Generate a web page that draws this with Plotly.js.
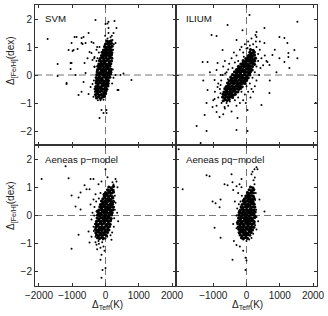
<!DOCTYPE html>
<html>
<head>
<meta charset="utf-8">
<script src="https://cdn.plot.ly/plotly-3.0.1.min.js"></script>
<style>html,body{margin:0;padding:0;background:#fff}#chart{width:328px;height:316px}</style>
</head>
<body>
<div id="chart"></div>
<script>
// ---- data (ΔTeff in K, Δ[Fe/H] in dex) ----
const panelNames = ["SVM", "ILIUM", "Aeneas p\u2212model", "Aeneas pq\u2212model"];
const xTickValsLeft = [-2000, -1000, 0, 1000, 2000];
const xTickTextLeft = ["\u22122000", "\u22121000", "0", "1000", "2000"];
const xTickValsRight = [-1000, 0, 1000, 2000];
const xTickTextRight = ["\u22121000", "0", "1000", "2000"];
const yTickVals = [-2, -1, 0, 1, 2];
const yTickText = ["\u22122", "\u22121", "0", "1", "2"];

const svmCore = [
[-270,-0.82],[-210,-0.78],[-150,-0.84],[-90,-0.79],[-40,-0.76],
[-300,-0.7],[-240,-0.68],[-180,-0.73],[-120,-0.69],[-60,-0.72],[0,-0.67],
[-290,-0.58],[-230,-0.62],[-170,-0.6],[-110,-0.57],[-50,-0.63],[10,-0.59],
[-300,-0.49],[-250,-0.52],[-190,-0.47],[-130,-0.53],[-70,-0.5],[-10,-0.46],[40,-0.51],
[-290,-0.41],[-230,-0.38],[-170,-0.43],[-110,-0.4],[-50,-0.37],[10,-0.42],[70,-0.39],
[-280,-0.29],[-220,-0.32],[-160,-0.28],[-100,-0.31],[-40,-0.27],[20,-0.33],[80,-0.3],
[-270,-0.21],[-210,-0.18],[-150,-0.23],[-90,-0.19],[-30,-0.22],[30,-0.17],[90,-0.2],
[-280,-0.09],[-220,-0.12],[-160,-0.08],[-100,-0.11],[-40,-0.07],[20,-0.12],[80,-0.1],[130,-0.08],
[-260,0.01],[-200,-0.02],[-140,0.03],[-80,0.0],[-20,0.02],[40,-0.03],[100,0.01],[150,0.03],
[-250,0.11],[-190,0.08],[-130,0.12],[-70,0.09],[-10,0.13],[50,0.08],[110,0.11],[160,0.1],
[-240,0.19],[-180,0.22],[-120,0.18],[-60,0.21],[0,0.17],[60,0.22],[120,0.19],[170,0.2],
[-230,0.31],[-170,0.28],[-110,0.32],[-50,0.29],[10,0.33],[70,0.28],[130,0.31],
[-200,0.39],[-140,0.42],[-80,0.38],[-20,0.41],[40,0.37],[100,0.42],[160,0.4],
[-180,0.51],[-120,0.48],[-60,0.52],[0,0.49],[60,0.53],[120,0.48],[180,0.5],
[-160,0.59],[-100,0.62],[-40,0.58],[20,0.61],[80,0.57],[140,0.62],[190,0.6],
[-120,0.69],[-60,0.72],[0,0.68],[60,0.71],[120,0.67],[180,0.72],
[-100,0.81],[-40,0.78],[20,0.82],[80,0.79],[140,0.83],[190,0.8],
[-60,0.89],[0,0.92],[60,0.88],[120,0.91],[180,0.9],
[-30,1.01],[30,0.98],[90,1.02],[150,0.99],[200,1.03],
[0,1.1],[60,1.12],[120,1.09],[180,1.13],
[40,1.21],[110,1.19],[170,1.22],
[-230,-0.55],[-140,-0.45],[-60,-0.35],[-200,-0.25],[-120,-0.15],[-30,-0.05],[50,-0.25],[-180,0.05],
[-90,0.15],[10,0.25],[100,0.35],[-150,0.35],[-30,0.45],[80,0.55],[-80,0.65],[40,0.75],[150,0.75],
[-10,0.85],[100,0.95],[-220,-0.45],[-10,-0.55],[-250,-0.15],[70,0.05],[-160,0.25],[130,0.65]
];
const svmScatter = [
[-330,0.3],[-350,-0.2],[-320,-0.6],[-340,0.6],[220,0.2],[240,-0.1],[230,0.9],[250,1.1],[-200,0.8],
[-240,0.6],[-180,1.0],[210,1.25],[150,1.35],[60,1.3],[-250,1.0],[-150,-0.9],[-60,-0.88],[-230,-0.9],
[-10,1.4],[190,1.4],[-330,-0.5],[-270,0.5],[200,-0.3],[-290,-0.75],
[-1740,1.29],[-300,1.96],[0,1.82],[60,1.84],[270,1.93],[-870,1.36],[-720,1.32],[-1110,0.89],
[-990,0.86],[-720,1.14],[-600,1.14],[-510,1.5],[-420,1.18],[-840,0.93],[-480,0.82],[-540,0.6],
[-1050,0.43],[-1440,0.39],[-1050,0.21],[-900,0.0],[-1440,-0.04],[-1170,-0.32],[-660,-0.25],[-600,0.07],
[-510,-0.68],[-810,-0.71],[-720,-0.6],[-360,-0.78],[-120,-1.25],[-60,-1.36],[-180,-1.54],[450,0.0],
[540,0.05],[780,-0.18],[360,-0.54],[300,1.14],[240,1.5],[90,1.5],[90,1.68],[-270,0.9],[-330,0.64],
[-390,0.54],[-330,0.29],[-390,-0.32],[-270,-0.5],[-930,1.36],[-660,1.36],[-1020,1.14],[-690,1.11],
[-360,1.14],[-960,0.89],[-630,0.43],[-420,0.79],[-1020,0.43],[-1170,-0.29],[-450,-0.43],[390,-0.54],
[300,0.0],[30,-1.25],[30,-1.36],[330,1.68],[90,1.9]
];

const iliumCore = [
[-700,-0.92],[-640,-0.88],[-580,-0.91],[-520,-0.87],
[-720,-0.79],[-660,-0.82],[-600,-0.78],[-540,-0.81],[-480,-0.77],[-420,-0.8],
[-700,-0.69],[-640,-0.72],[-580,-0.68],[-520,-0.71],[-460,-0.67],[-400,-0.72],[-340,-0.69],
[-680,-0.61],[-620,-0.58],[-560,-0.62],[-500,-0.59],[-440,-0.63],[-380,-0.58],[-320,-0.61],[-260,-0.6],
[-650,-0.49],[-590,-0.52],[-530,-0.48],[-470,-0.51],[-410,-0.47],[-350,-0.52],[-290,-0.49],[-230,-0.51],[-180,-0.48],
[-610,-0.41],[-550,-0.38],[-490,-0.42],[-430,-0.39],[-370,-0.43],[-310,-0.38],[-250,-0.41],[-190,-0.39],[-130,-0.42],
[-570,-0.29],[-510,-0.32],[-450,-0.28],[-390,-0.31],[-330,-0.27],[-270,-0.32],[-210,-0.29],[-150,-0.31],[-90,-0.28],[-50,-0.3],
[-520,-0.21],[-460,-0.18],[-400,-0.22],[-340,-0.19],[-280,-0.23],[-220,-0.18],[-160,-0.21],[-100,-0.19],[-40,-0.22],[0,-0.2],
[-470,-0.09],[-410,-0.12],[-350,-0.08],[-290,-0.11],[-230,-0.07],[-170,-0.12],[-110,-0.09],[-50,-0.11],[10,-0.08],[50,-0.1],
[-420,0.01],[-360,-0.02],[-300,0.02],[-240,-0.01],[-180,0.03],[-120,-0.02],[-60,0.01],[0,-0.03],[60,0.02],[100,0.0],
[-360,0.11],[-300,0.08],[-240,0.12],[-180,0.09],[-120,0.13],[-60,0.08],[0,0.11],[60,0.09],[120,0.12],
[-300,0.19],[-240,0.22],[-180,0.18],[-120,0.21],[-60,0.17],[0,0.22],[60,0.19],[120,0.21],[170,0.18],
[-240,0.31],[-180,0.28],[-120,0.32],[-60,0.29],[0,0.33],[60,0.28],[120,0.31],[180,0.3],
[-170,0.39],[-110,0.42],[-50,0.38],[10,0.41],[70,0.37],[130,0.42],[190,0.4],[240,0.38],
[-100,0.51],[-40,0.48],[20,0.52],[80,0.49],[140,0.53],[200,0.48],[250,0.5],
[-20,0.59],[40,0.62],[100,0.58],[160,0.61],[220,0.57],[270,0.6],
[60,0.69],[120,0.72],[180,0.68],[240,0.71],
[100,0.81],[170,0.78],[230,0.82],
[120,0.91],[200,0.88],
[-610,-0.65],[-490,-0.55],[-370,-0.45],[-250,-0.35],[-130,-0.25],[-10,-0.15],[-450,-0.75],[-550,-0.45],
[-430,-0.25],[-310,-0.05],[-190,0.05],[-70,0.15],[50,0.25],[150,0.45],[-230,0.25],[-90,0.35],[30,0.55],
[-330,-0.15],[-210,-0.45],[90,0.05],[-150,-0.05],[-390,-0.55],[-270,0.15],[210,0.55],[110,0.65]
];
const iliumScatter = [
[-600,0.1],[-700,0.3],[-520,0.4],[-450,0.6],[-380,0.8],[-300,0.7],[-250,0.5],[-350,0.45],[-200,0.9],
[-100,0.8],[-150,1.0],[-50,1.1],[0,0.95],[50,1.2],[-80,0.65],[-420,0.25],[-550,0.2],[-650,0.5],
[-480,-0.05],[-560,-0.15],[-640,0.05],[-780,0.0],[-760,-0.2],
[100,-0.3],[180,-0.1],[250,0.1],[300,0.3],[350,0.5],[300,-0.2],[150,-0.5],[50,-0.6],[0,-0.4],
[-50,-0.7],[-150,-0.6],[-100,-0.9],[-250,-0.8],[-200,-1.0],[-300,-1.1],[-350,-0.9],[200,-0.6],
[380,0.0],[420,0.25],[250,-0.4],[120,-0.8],[-20,-1.0],
[-800,-0.5],[-850,-0.8],[-750,-1.0],[-650,-1.2],[-900,-1.1],[-550,-1.1],[-700,-1.4],[-850,-0.3],
[-950,-0.6],[-1000,-0.9],[-600,-1.0],[-450,-1.3],[-500,-0.95],[-780,-0.65],
[250,0.8],[300,1.0],[350,0.75],[400,0.9],[200,1.1],[150,1.3],[450,0.6],[500,0.35],[550,0.7],
[400,1.2],[280,1.2],[100,1.05],[600,0.5],[30,0.96],[300,1.36],
[-570,1.79],[90,2.14],[1530,1.9],[-1050,1.43],[-900,1.39],[300,1.54],[270,1.43],[990,1.36],
[1140,1.32],[540,1.14],[-720,0.89],[-1320,0.46],[-1170,0.46],[-870,0.43],[-900,0.18],[990,0.6],
[1260,0.79],[1260,0.64],[1530,0.6],[1140,0.46],[1290,0.25],[630,0.46],[780,0.71],[690,0.36],
[2080,-1.0],[-1170,-0.54],[-1200,-1.0],[-1260,-1.43],[-1500,-1.82],[-1200,-2.0],[-1380,-2.43],
[-900,-1.32],[-810,-1.5],[-300,-1.96],[-270,-1.54],[30,-1.25],[30,-2.0],[690,-0.64],[450,-1.07],
[-960,-0.86],[-1020,-1.14],[-660,-1.14],[-510,-0.68],[-870,-0.43],[-780,-0.36],[-960,-0.18],
[-720,0.0],[540,1.68],[1230,1.14],[1440,0.89],[-120,1.6],[-300,1.25],[850,0.9],[700,-0.2],[900,0.1],
[-1100,0.1],[-1300,-0.2]
];

const pCore = [
[-240,-0.79],[-180,-0.82],[-120,-0.78],[-60,-0.81],
[-270,-0.69],[-210,-0.72],[-150,-0.68],[-90,-0.71],[-30,-0.67],[20,-0.7],
[-290,-0.61],[-230,-0.58],[-170,-0.62],[-110,-0.59],[-50,-0.63],[10,-0.58],[60,-0.6],
[-300,-0.49],[-240,-0.52],[-180,-0.48],[-120,-0.51],[-60,-0.47],[0,-0.52],[60,-0.49],[100,-0.51],
[-290,-0.41],[-230,-0.38],[-170,-0.42],[-110,-0.39],[-50,-0.43],[10,-0.38],[70,-0.41],[120,-0.39],
[-280,-0.29],[-220,-0.32],[-160,-0.28],[-100,-0.31],[-40,-0.27],[20,-0.32],[80,-0.29],[140,-0.31],
[-270,-0.21],[-210,-0.18],[-150,-0.22],[-90,-0.19],[-30,-0.23],[30,-0.18],[90,-0.21],[150,-0.19],
[-250,-0.09],[-190,-0.12],[-130,-0.08],[-70,-0.11],[-10,-0.07],[50,-0.12],[110,-0.09],[170,-0.11],
[-240,0.01],[-180,-0.02],[-120,0.02],[-60,-0.01],[0,0.03],[60,-0.02],[120,0.01],[180,0.02],
[-220,0.11],[-160,0.08],[-100,0.12],[-40,0.09],[20,0.13],[80,0.08],[140,0.11],[200,0.1],
[-200,0.19],[-140,0.22],[-80,0.18],[-20,0.21],[40,0.17],[100,0.22],[160,0.19],[220,0.2],
[-170,0.31],[-110,0.28],[-50,0.32],[10,0.29],[70,0.33],[130,0.28],[190,0.31],[240,0.3],
[-150,0.39],[-90,0.42],[-30,0.38],[30,0.41],[90,0.37],[150,0.42],[210,0.4],
[-120,0.51],[-60,0.48],[0,0.52],[60,0.49],[120,0.53],[180,0.48],[240,0.5],
[-80,0.59],[-20,0.62],[40,0.58],[100,0.61],[160,0.57],[220,0.62],
[-40,0.69],[20,0.72],[80,0.68],[140,0.71],[200,0.67],
[0,0.81],[60,0.78],[120,0.82],[180,0.79],[240,0.83],
[60,0.91],[130,0.88],[200,0.92],
[100,1.01],[170,0.98],[240,1.03],
[-210,-0.55],[-90,-0.45],[30,-0.35],[-150,-0.25],[-30,-0.15],[90,-0.05],[-200,0.05],[-70,0.15],
[60,0.25],[-120,0.35],[10,0.45],[130,0.55],[-40,0.75],[100,0.85],[-260,-0.35],[150,0.15],
[-160,-0.65],[-20,-0.55],[170,0.35],[-250,0.15]
];
const pScatter = [
[-340,0.0],[-320,-0.3],[-330,0.3],[260,-0.1],[280,0.2],[250,-0.4],[200,-0.6],[-350,-0.55],
[-300,-0.75],[-280,0.5],[-200,0.6],[-150,0.8],[280,0.7],[300,0.45],[-80,-0.85],[0,-0.82],
[50,-0.75],[-210,-0.9],[150,-0.7],[-300,0.75],[250,0.9],
[-1920,1.29],[-1200,1.75],[-1110,1.32],[-450,1.29],[-360,1.29],[-210,1.11],[-120,1.21],[-630,1.07],
[-570,0.93],[-480,0.93],[-750,0.82],[-1020,0.71],[-810,0.64],[-360,0.57],[-900,0.32],[-750,0.21],
[-450,0.39],[-420,-0.14],[-810,-0.68],[-1020,-1.18],[-510,-0.57],[-420,-0.75],[-480,-0.96],
[-270,-1.04],[-200,-1.0],[-150,-1.14],[-120,-1.39],[-150,-1.57],[-90,-1.93],[-120,-2.21],[0,-1.86],
[300,1.29],[330,1.21],[360,1.0],[210,1.18],[240,1.1],[60,1.36],[-360,-0.4],[-390,0.1],[380,-0.2],
[350,0.1],[-60,-1.1],[-30,-1.25],[-100,-0.95],[-250,-1.2],[-300,-0.95],[180,-0.86],[0,1.64]
];

const pqCore = [
[-150,-0.79],[-90,-0.82],[-30,-0.78],[30,-0.81],
[-190,-0.69],[-130,-0.72],[-70,-0.68],[-10,-0.71],[50,-0.67],[100,-0.7],
[-210,-0.61],[-150,-0.58],[-90,-0.62],[-30,-0.59],[30,-0.63],[90,-0.58],[140,-0.6],
[-230,-0.49],[-170,-0.52],[-110,-0.48],[-50,-0.51],[10,-0.47],[70,-0.52],[130,-0.49],[180,-0.51],
[-250,-0.41],[-190,-0.38],[-130,-0.42],[-70,-0.39],[-10,-0.43],[50,-0.38],[110,-0.41],[170,-0.39],[220,-0.42],
[-260,-0.29],[-200,-0.32],[-140,-0.28],[-80,-0.31],[-20,-0.27],[40,-0.32],[100,-0.29],[160,-0.31],[220,-0.28],
[-250,-0.21],[-190,-0.18],[-130,-0.22],[-70,-0.19],[-10,-0.23],[50,-0.18],[110,-0.21],[170,-0.19],[230,-0.22],
[-240,-0.09],[-180,-0.12],[-120,-0.08],[-60,-0.11],[0,-0.07],[60,-0.12],[120,-0.09],[180,-0.11],[240,-0.08],
[-230,0.01],[-170,-0.02],[-110,0.02],[-50,-0.01],[10,0.03],[70,-0.02],[130,0.01],[190,0.02],[250,-0.01],
[-220,0.11],[-160,0.08],[-100,0.12],[-40,0.09],[20,0.13],[80,0.08],[140,0.11],[200,0.1],[260,0.12],
[-190,0.19],[-130,0.22],[-70,0.18],[-10,0.21],[50,0.17],[110,0.22],[170,0.19],[230,0.2],
[-160,0.31],[-100,0.28],[-40,0.32],[20,0.29],[80,0.33],[140,0.28],[200,0.31],[250,0.3],
[-130,0.39],[-70,0.42],[-10,0.38],[50,0.41],[110,0.37],[170,0.42],[230,0.4],
[-100,0.51],[-40,0.48],[20,0.52],[80,0.49],[140,0.53],[200,0.48],
[-60,0.59],[0,0.62],[60,0.58],[120,0.61],[180,0.57],[230,0.6],
[-20,0.69],[40,0.72],[100,0.68],[160,0.71],[210,0.67],
[30,0.81],[90,0.78],[150,0.82],[210,0.8],
[80,0.91],[150,0.88],[220,0.92],
[120,1.01],[190,0.98],
[-200,-0.45],[-80,-0.35],[40,-0.25],[160,-0.15],[-160,-0.05],[-40,0.05],[100,0.15],[-130,0.25],
[0,0.35],[140,0.45],[-80,0.55],[60,0.65],[-120,-0.55],[0,-0.65],[100,-0.45],[-200,0.15],[210,0.05],
[-20,-0.15],[170,0.55],[-170,-0.25]
];
const pqScatter = [
[-300,0.0],[-290,-0.25],[-280,0.25],[300,-0.05],[290,0.2],[260,-0.35],[-240,-0.6],[200,-0.65],
[-180,0.5],[-140,0.7],[260,0.55],[280,0.8],[-100,-0.85],[80,-0.85],[-300,-0.45],[-230,0.4],[150,-0.8],[0,-0.9],
[-2040,2.35],[-1920,0.93],[-1200,1.43],[-1110,1.39],[-450,1.46],[-660,1.11],[-570,1.07],[-210,1.11],
[-150,1.0],[-1020,0.5],[-930,0.43],[-810,0.29],[-780,0.57],[-960,-0.43],[-780,-0.79],[-420,-1.57],
[-30,-1.5],[-30,-1.93],[0,-1.6],[240,1.64],[330,1.64],[300,1.71],[150,1.46],[210,1.25],[240,1.11],
[540,0.14],[390,0.57],[-400,-0.3],[-350,0.5],[-380,-0.9],[-300,-1.05],[-200,-1.1],[-100,-1.25],
[300,-0.5],[350,-0.2],[250,1.35],[180,1.55],[-250,0.8],[-400,0.9],[-420,1.18],[-300,1.04],[-150,1.29]
];

const panelData = [
  [svmCore, svmScatter],
  [iliumCore, iliumScatter],
  [pCore, pScatter],
  [pqCore, pqScatter]
];

// ---- layout ----
const W = 328, H = 316;
const colL = [35 / W, 176 / W], colR = [176 / W, 317 / W];
const rowT = [1 - 145 / H, 1 - 5 / H], rowB = [1 - 286 / H, 1 - 145 / H];
const axCol = '#333';
const fontFam = 'Liberation Sans, Arial, sans-serif';

function xAx(dom, anchor, showLabels, tickvals, ticktext) {
  return {
    domain: dom, anchor: anchor, range: [-2120, 2120], fixedrange: true,
    tickmode: 'array', tickvals: tickvals, ticktext: ticktext,
    showticklabels: showLabels, ticks: 'inside', ticklen: 3, tickwidth: 1, tickcolor: axCol,
    showline: true, linecolor: axCol, linewidth: 1, mirror: 'ticks',
    showgrid: false, zeroline: false, automargin: false,
    tickfont: {size: 10, color: '#222', family: fontFam}
  };
}
function yAx(dom, anchor, showLabels) {
  return {
    domain: dom, anchor: anchor, range: [-2.5, 2.5], fixedrange: true,
    tickmode: 'array', tickvals: yTickVals, ticktext: yTickText,
    showticklabels: showLabels, ticks: 'inside', ticklen: 3, tickwidth: 1, tickcolor: axCol,
    showline: true, linecolor: axCol, linewidth: 1, mirror: 'ticks',
    showgrid: false, zeroline: false, automargin: false,
    tickfont: {size: 10, color: '#222', family: fontFam}
  };
}

const axisIds = ['', '2', '3', '4'];
const traces = [];
panelData.forEach(([core, scatter], i) => {
  traces.push({
    type: 'scatter', mode: 'markers',
    x: core.map(p => p[0]), y: core.map(p => p[1]),
    xaxis: 'x' + axisIds[i], yaxis: 'y' + axisIds[i],
    marker: {size: 3.2, color: '#000', line: {width: 0}},
    hoverinfo: 'skip', showlegend: false
  });
  traces.push({
    type: 'scatter', mode: 'markers',
    x: scatter.map(p => p[0]), y: scatter.map(p => p[1]),
    xaxis: 'x' + axisIds[i], yaxis: 'y' + axisIds[i],
    marker: {size: 2, color: '#000', line: {width: 0}},
    hoverinfo: 'skip', showlegend: false
  });
});

const shapes = [];
axisIds.forEach(id => {
  shapes.push({type: 'line', layer: 'below', xref: 'x' + id + ' domain', x0: 0, x1: 1,
    yref: 'y' + id, y0: 0, y1: 0, line: {color: '#777', width: 1, dash: '7px,4px'}});
  shapes.push({type: 'line', layer: 'below', xref: 'x' + id, x0: 0, x1: 0,
    yref: 'y' + id + ' domain', y0: 0, y1: 1, line: {color: '#777', width: 1, dash: '7px,4px'}});
});

const annotations = [];
axisIds.forEach((id, i) => {
  annotations.push({
    xref: 'x' + id + ' domain', yref: 'y' + id + ' domain',
    x: 0.055, y: 0.9, xanchor: 'left', yanchor: 'middle', showarrow: false,
    text: panelNames[i], font: {size: 9.7, color: '#111', family: fontFam}
  });
});
[1 - 61 / H, 1 - 206 / H].forEach(yy => {
  annotations.push({
    xref: 'paper', yref: 'paper', x: 11 / W, y: yy, xanchor: 'center', yanchor: 'middle',
    textangle: -90, showarrow: false, text: '\u0394<sub>[Fe/H]</sub>(dex)',
    font: {size: 10, color: '#222', family: fontFam}
  });
});
[107 / W, 247 / W].forEach(xx => {
  annotations.push({
    xref: 'paper', yref: 'paper', x: xx, y: 1 - 305 / H, xanchor: 'center', yanchor: 'middle',
    showarrow: false, text: '\u0394<sub>Teff</sub>(K)',
    font: {size: 10, color: '#222', family: fontFam}
  });
});

const layout = {
  width: W, height: H, margin: {l: 0, r: 0, t: 0, b: 0},
  paper_bgcolor: '#fff', plot_bgcolor: '#fff', showlegend: false,
  xaxis: xAx(colL, 'y', false, xTickValsLeft, xTickTextLeft),
  yaxis: yAx(rowT, 'x', true),
  xaxis2: xAx(colR, 'y2', false, xTickValsRight, xTickTextRight),
  yaxis2: yAx(rowT, 'x2', false),
  xaxis3: xAx(colL, 'y3', true, xTickValsLeft, xTickTextLeft),
  yaxis3: yAx(rowB, 'x3', true),
  xaxis4: xAx(colR, 'y4', true, xTickValsRight, xTickTextRight),
  yaxis4: yAx(rowB, 'x4', false),
  shapes: shapes, annotations: annotations
};

Plotly.newPlot('chart', traces, layout, {staticPlot: true, displayModeBar: false});
</script>
</body>
</html>
